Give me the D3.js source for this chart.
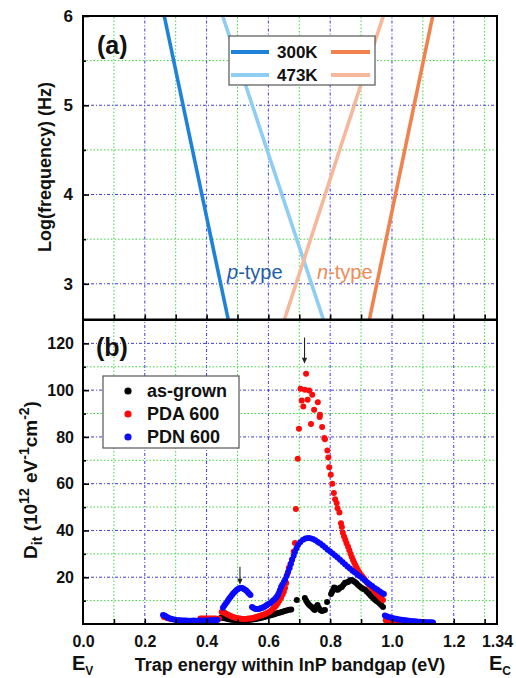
<!DOCTYPE html>
<html>
<head>
<meta charset="utf-8">
<script src="https://cdn.jsdelivr.net/npm/d3@7"></script>
<style>
  html, body { margin: 0; padding: 0; background: #fff; }
  svg text { font-family: "Liberation Sans", Arial, Helvetica, sans-serif; }
</style>
</head>
<body>
<svg id="chart" width="516" height="678"></svg>
<script>
// ---- axis ticks ----
const xTickValues = [0.0, 0.2, 0.4, 0.6, 0.8, 1.0, 1.2, 1.34];
const xTickLabels = ["0.0", "0.2", "0.4", "0.6", "0.8", "1.0", "1.2", "1.34"];
const freqTicks = [3, 4, 5, 6];
const freqMinorTicks = [3.5, 4.5, 5.5];
const ditTicks = [20, 40, 60, 80, 100, 120];
const ditMinorTicks = [10, 30, 50, 70, 90, 110];

// ---- panel (a): trap energy vs log(frequency), straight lines ----
// each line: energy (eV) at the two log(f) values below
const lineLogF = [2.6, 6];
const pType300K = [0.470, 0.263];
const pType473K = [0.778, 0.452];
const nType300K = [0.927, 1.132];
const nType473K = [0.652, 0.972];

// ---- panel (b): Dit (1e12 eV^-1 cm^-2) vs trap energy (eV) ----
const asGrown = [
  [0.446,2.6],[0.450,3.0],[0.454,2.8],[0.458,2.6],[0.462,2.4],[0.467,2.2],[0.472,2.0],[0.477,1.9],
  [0.482,1.8],[0.488,1.7],[0.494,1.6],[0.500,1.5],[0.506,1.5],[0.512,1.5],[0.518,1.5],[0.524,1.6],
  [0.530,1.6],[0.536,1.7],[0.542,1.8],[0.548,1.9],[0.554,2.0],[0.560,2.1],[0.566,2.3],[0.572,2.5],
  [0.578,2.7],[0.584,2.9],[0.590,3.1],[0.596,3.3],[0.602,3.5],[0.608,3.7],[0.614,4.0],[0.620,4.2],
  [0.626,4.5],[0.632,4.7],[0.638,4.9],[0.644,5.1],[0.650,5.4],[0.656,5.7],[0.662,5.9],[0.668,6.1],
  [0.674,6.2],[0.692,10.3],[0.718,11.1],[0.722,10.0],[0.726,9.2],[0.730,8.4],[0.735,7.8],[0.740,7.3],
  [0.745,6.5],[0.750,6.0],[0.755,7.4],[0.759,8.1],[0.763,6.9],[0.768,6.0],[0.773,5.6],[0.778,5.8],
  [0.783,6.0],[0.790,9.4],[0.803,12.8],[0.806,13.7],[0.810,14.8],[0.813,15.6],[0.816,15.4],[0.820,14.8],
  [0.825,14.6],[0.829,15.2],[0.833,15.6],[0.838,15.8],[0.843,16.8],[0.848,17.6],[0.853,17.8],[0.858,18.0],
  [0.864,18.6],[0.870,18.8],[0.875,18.4],[0.880,18.0],[0.885,17.4],[0.890,16.7],[0.896,16.0],[0.902,15.4],
  [0.908,15.0],[0.913,14.6],[0.919,13.8],[0.925,13.0],[0.930,12.3],[0.935,11.6],[0.940,11.0],[0.945,10.4],
  [0.950,9.8],[0.955,9.4],[0.960,8.8],[0.965,8.1],[0.971,7.3]
];

const pda600 = [
  [0.262,3.0],[0.268,2.8],[0.274,2.5],[0.280,2.3],[0.286,2.0],
  [0.380,2.3],[0.386,2.3],[0.392,2.4],[0.398,2.4],[0.404,2.3],[0.410,2.4],[0.416,2.3],[0.422,2.4],
  [0.428,2.3],[0.434,2.2],[0.440,2.2],
  [0.449,5.1],[0.453,5.0],[0.457,4.8],[0.461,4.6],[0.466,4.2],[0.471,3.8],[0.476,3.5],[0.481,3.2],
  [0.486,3.0],[0.491,2.8],[0.496,2.6],[0.501,2.5],[0.506,2.3],[0.511,2.2],[0.516,2.1],[0.521,2.1],
  [0.526,2.1],[0.531,2.2],[0.536,2.3],[0.541,2.4],[0.546,2.5],[0.551,2.6],[0.556,2.8],[0.561,3.0],
  [0.566,3.2],[0.571,3.4],[0.576,3.6],[0.581,3.8],[0.586,4.1],[0.591,4.4],[0.596,4.7],[0.601,5.0],
  [0.606,5.4],[0.611,6.0],[0.616,6.7],[0.621,7.3],[0.626,8.0],[0.631,9.0],[0.636,10.0],[0.641,11.2],
  [0.646,12.6],[0.650,13.8],[0.654,15.4],[0.658,17.5],[0.662,21.5],[0.666,24.0],[0.671,25.5],[0.676,27.4],
  [0.682,31.0],[0.686,34.6],[0.689,49.2],[0.695,70.7],[0.699,83.5],[0.704,100.6],
  [0.708,95.6],[0.713,93.0],[0.718,100.2],[0.722,107.0],[0.727,95.9],[0.732,99.8],[0.738,85.5],
  [0.742,98.0],[0.748,91.6],[0.760,94.8],[0.766,88.5],[0.767,89.5],[0.774,84.2],[0.781,79.5],
  [0.783,79.0],[0.791,74.2],[0.794,71.2],[0.797,67.0],[0.802,63.8],[0.807,60.0],[0.812,56.0],
  [0.816,53.4],[0.821,51.7],[0.824,49.5],[0.830,47.7],[0.835,43.1],
  [0.838,41.5],[0.841,39.0],[0.845,37.4],[0.849,36.0],[0.853,34.5],[0.858,33.0],[0.862,31.5],
  [0.866,30.0],[0.870,28.7],[0.874,27.4],[0.878,26.2],[0.882,25.0],[0.886,24.0],[0.890,23.0],
  [0.895,21.9],[0.900,21.0],[0.905,20.2],[0.910,19.4],[0.915,18.4],[0.920,17.6],[0.925,16.9],
  [0.930,16.1],[0.935,15.4],[0.940,14.6],[0.945,13.8],[0.950,13.1],[0.955,12.4],[0.960,11.7],
  [0.965,11.0],[0.971,10.3],
  [0.980,1.6],[0.986,1.4],[0.992,1.2],[0.998,1.1],[1.004,1.0],[1.010,0.9],[1.016,0.9],[1.022,0.8],
  [1.028,0.8],[1.034,0.7],[1.040,0.7]
];

const pdn600 = [
  [0.259,3.9],[0.264,3.6],[0.269,3.2],[0.274,2.8],[0.279,2.5],[0.285,2.2],[0.291,2.0],[0.297,1.8],
  [0.303,1.7],[0.309,1.6],[0.315,1.6],[0.321,1.5],[0.327,1.5],[0.333,1.5],[0.339,1.4],[0.345,1.4],
  [0.351,1.4],[0.357,1.5],[0.363,1.4],[0.369,1.4],[0.375,1.5],[0.381,1.5],[0.387,1.4],[0.393,1.5],
  [0.399,1.5],[0.405,1.5],[0.411,1.6],[0.417,1.5],[0.423,1.6],[0.429,1.6],[0.435,1.7],
  [0.453,6.9],[0.457,7.8],[0.461,8.6],[0.466,9.4],[0.470,10.3],[0.474,11.0],[0.478,11.7],[0.482,12.4],
  [0.486,13.0],[0.490,13.6],[0.494,14.1],[0.498,14.6],[0.502,15.0],[0.506,15.3],[0.510,15.4],[0.514,15.4],
  [0.518,15.2],[0.522,14.9],[0.526,14.5],[0.530,14.1],[0.534,13.5],[0.538,12.9],[0.542,12.4],
  [0.547,7.3],[0.551,6.9],[0.555,6.6],[0.559,6.4],[0.563,6.4],[0.567,6.4],[0.571,6.5],[0.575,6.7],
  [0.579,6.9],[0.583,7.1],[0.587,7.4],[0.591,7.7],[0.595,8.1],[0.600,8.5],[0.605,8.9],[0.610,9.4],
  [0.615,10.0],[0.620,10.6],[0.625,11.3],[0.629,12.0],[0.633,13.0],[0.637,14.4],[0.641,15.8],[0.645,16.8],
  [0.650,18.0],[0.654,18.9],[0.659,20.5],[0.664,22.3],[0.669,24.0],[0.673,25.8],[0.677,27.6],[0.682,29.2],
  [0.686,30.8],[0.691,32.4],[0.696,33.8],[0.703,35.0],[0.712,36.0],[0.720,36.6],[0.728,36.8],[0.736,36.7],
  [0.744,36.4],[0.752,35.8],[0.760,35.1],[0.768,34.4],[0.776,33.6],[0.784,32.7],[0.792,31.8],[0.800,31.0],
  [0.808,30.1],[0.816,29.3],[0.824,28.4],[0.832,27.5],[0.840,26.5],[0.848,25.5],[0.856,24.6],[0.864,23.7],
  [0.872,22.8],[0.880,22.0],[0.888,21.2],[0.896,20.4],[0.904,19.6],[0.912,18.7],[0.920,17.8],[0.928,17.0],
  [0.936,16.2],[0.944,15.4],[0.952,14.7],[0.960,14.0],[0.968,13.3],[0.974,12.8],
  [0.977,3.6],[0.983,3.3],[0.989,3.0],[0.995,2.8],[1.001,2.6],[1.007,2.4],[1.013,2.2],[1.019,2.0],
  [1.025,1.9],[1.031,1.8],[1.037,1.7],[1.043,1.6],[1.049,1.5],[1.055,1.4],[1.061,1.3],[1.067,1.2],
  [1.073,1.2],[1.079,1.1],[1.085,1.0],[1.091,1.0],[1.097,0.9],[1.103,0.9],[1.109,0.8],[1.115,0.8],
  [1.121,0.7],[1.127,0.7],[1.133,0.6]
];

// peak markers: energy, arrow tail and tip (Dit units)
const arrowEnergy = [0.508, 0.717];
const arrowTail = [24.5, 122.5];
const arrowTip = [16.8, 111.3];

// ---- layout ----
const svg = d3.select("#chart");
const x = d3.scaleLinear().domain([0, 1.34]).range([83, 497]);
const yA = d3.scaleLinear().domain([2.6, 6]).range([319.5, 16]);
const yB = d3.scaleLinear().domain([0, 130]).range([624, 320]);

const GRID_BLUE = "#3c3ce6";
const GRID_GREEN = "#3ed83e";
const FONT_BOLD = 700;

function drawGrid(y, major, minor) {
  const g = svg.append("g");
  const vx = d3.range(1, 14).map(i => i / 10);
  g.selectAll(".gv").data(vx).join("line")
    .attr("x1", d => x(d)).attr("x2", d => x(d))
    .attr("y1", y.range()[0]).attr("y2", y.range()[1])
    .attr("stroke", (d, i) => i % 2 === 1 ? GRID_BLUE : GRID_GREEN)
    .attr("stroke-width", 1)
    .attr("stroke-dasharray", (d, i) => i % 2 === 1 ? "3,2,1,2" : "1.5,2");
  g.selectAll(".gh").data(major).join("line")
    .attr("x1", x.range()[0]).attr("x2", x.range()[1])
    .attr("y1", d => y(d)).attr("y2", d => y(d))
    .attr("stroke", GRID_BLUE).attr("stroke-width", 1).attr("stroke-dasharray", "3,2,1,2");
  g.selectAll(".gm").data(minor).join("line")
    .attr("x1", x.range()[0]).attr("x2", x.range()[1])
    .attr("y1", d => y(d)).attr("y2", d => y(d))
    .attr("stroke", GRID_GREEN).attr("stroke-width", 1).attr("stroke-dasharray", "1.5,2");
}

function styleAxis(g) {
  g.select(".domain").remove();
  g.selectAll(".tick line").attr("stroke", "#000").attr("stroke-width", 1.6);
  g.selectAll(".tick text")
    .attr("fill", "#111").style("font-size", "16px").style("font-weight", FONT_BOLD)
    .style("font-family", '"Liberation Sans", Arial, sans-serif');
}

// ===== panel (a) =====
drawGrid(yA, freqTicks.filter(v => v < 6), freqMinorTicks);

svg.append("clipPath").attr("id", "clipA").append("rect")
  .attr("x", x(0)).attr("y", yA(6)).attr("width", x(1.34) - x(0)).attr("height", yA(2.6) - yA(6));

const trapLines = [
  { e: pType473K, color: "#8fcdf3" },
  { e: nType473K, color: "#f6b89c" },
  { e: pType300K, color: "#1f82d8" },
  { e: nType300K, color: "#f0824e" }
];
const lineGen = d3.line().x(d => x(d[0])).y(d => yA(d[1]));
svg.append("g").attr("clip-path", "url(#clipA)")
  .selectAll("path").data(trapLines).join("path")
  .attr("d", d => lineGen(d.e.map((v, i) => [v, lineLogF[i]])))
  .attr("fill", "none").attr("stroke", d => d.color).attr("stroke-width", 3.6);

// axes (a)
svg.append("g").attr("transform", `translate(${x(0)},0)`)
  .call(d3.axisLeft(yA).tickValues(freqTicks).tickSize(-6).tickPadding(10).tickFormat(d3.format("d")))
  .call(styleAxis).selectAll(".tick text").style("font-size", "17px");
svg.append("g").attr("transform", `translate(${x(0)},0)`)
  .call(d3.axisLeft(yA).tickValues(freqMinorTicks).tickSize(-3).tickFormat(""))
  .call(styleAxis);
svg.append("g").attr("transform", `translate(0,${yA(2.6)})`)
  .call(d3.axisBottom(x).tickValues(d3.range(1, 14).map(i => i / 10)).tickSize(-5).tickFormat(""))
  .call(styleAxis);

svg.append("rect").attr("x", x(0)).attr("y", yA(6))
  .attr("width", x(1.34) - x(0)).attr("height", yA(2.6) - yA(6))
  .attr("fill", "none").attr("stroke", "#000").attr("stroke-width", 2);

svg.append("text").attr("x", 97).attr("y", 54).text("(a)")
  .style("font-size", "25px").style("font-weight", FONT_BOLD).attr("fill", "#111");

// type labels
const pLab = svg.append("text").attr("x", 227).attr("y", 279).attr("fill", "#1d5ea8").style("font-size", "20px");
pLab.append("tspan").style("font-style", "italic").text("p");
pLab.append("tspan").text("-type");
const nLab = svg.append("text").attr("x", 317).attr("y", 279).attr("fill", "#f08a58").style("font-size", "20px");
nLab.append("tspan").style("font-style", "italic").text("n");
nLab.append("tspan").text("-type");

// legend (a)
const legA = svg.append("g");
legA.append("rect").attr("x", 229).attr("y", 36).attr("width", 146).attr("height", 49)
  .attr("fill", "#fff").attr("stroke", "#555").attr("stroke-width", 1.2);
const legARows = [
  { label: "300K", left: "#1f82d8", right: "#f0824e", y: 52 },
  { label: "473K", left: "#8fcdf3", right: "#f6b89c", y: 75 }
];
legARows.forEach(r => {
  legA.append("line").attr("x1", 231).attr("x2", 269).attr("y1", r.y).attr("y2", r.y)
    .attr("stroke", r.left).attr("stroke-width", 4);
  legA.append("line").attr("x1", 331).attr("x2", 370).attr("y1", r.y).attr("y2", r.y)
    .attr("stroke", r.right).attr("stroke-width", 4);
  legA.append("text").attr("x", 277).attr("y", r.y + 6).text(r.label)
    .style("font-size", "17px").style("font-weight", FONT_BOLD).attr("fill", "#111");
});

// y label (a)
svg.append("text").attr("transform", "translate(51,167) rotate(-90)")
  .attr("text-anchor", "middle").text("Log(frequency) (Hz)")
  .style("font-size", "18px").style("font-weight", FONT_BOLD).attr("fill", "#111");

// ===== panel (b) =====
drawGrid(yB, ditTicks, ditMinorTicks);

svg.append("clipPath").attr("id", "clipB").append("rect")
  .attr("x", x(0)).attr("y", yB(130)).attr("width", x(1.34) - x(0)).attr("height", yB(0) - yB(130));

const seriesB = [
  { data: asGrown, color: "#000000", name: "as-grown" },
  { data: pda600, color: "#ff0a0a", name: "PDA 600" },
  { data: pdn600, color: "#0a0aff", name: "PDN 600" }
];
const pts = svg.append("g").attr("clip-path", "url(#clipB)");
seriesB.forEach(s => {
  pts.append("g").selectAll("circle").data(s.data).join("circle")
    .attr("cx", d => x(d[0])).attr("cy", d => yB(d[1])).attr("r", 3.0)
    .attr("fill", s.color);
});

// arrows marking the peaks
arrowEnergy.forEach((e, i) => {
  const ax = x(e), y0 = yB(arrowTail[i]), y1 = yB(arrowTip[i]);
  svg.append("line").attr("x1", ax).attr("x2", ax).attr("y1", y0).attr("y2", y1 - 5)
    .attr("stroke", "#222").attr("stroke-width", 1.1);
  svg.append("path").attr("d", `M${ax - 2.6},${y1 - 6}L${ax + 2.6},${y1 - 6}L${ax},${y1}Z`)
    .attr("fill", "#222");
});

// axes (b)
svg.append("g").attr("transform", `translate(${x(0)},0)`)
  .call(d3.axisLeft(yB).tickValues(ditTicks).tickSize(-6).tickPadding(9).tickFormat(d3.format("d")))
  .call(styleAxis);
svg.append("g").attr("transform", `translate(${x(0)},0)`)
  .call(d3.axisLeft(yB).tickValues(ditMinorTicks).tickSize(-3).tickFormat(""))
  .call(styleAxis);
svg.append("g").attr("transform", `translate(0,${yB(0)})`)
  .call(d3.axisBottom(x).tickValues(d3.range(1, 14).map(i => i / 10)).tickSize(-5).tickFormat(""))
  .call(styleAxis);
svg.append("g").attr("transform", `translate(0,${yB(0)})`)
  .call(d3.axisBottom(x).tickValues(xTickValues).tickSize(0).tickPadding(12)
    .tickFormat((d, i) => xTickLabels[i]))
  .call(styleAxis);

svg.append("rect").attr("x", x(0)).attr("y", yB(130))
  .attr("width", x(1.34) - x(0)).attr("height", yB(0) - yB(130))
  .attr("fill", "none").attr("stroke", "#000").attr("stroke-width", 2);

svg.append("text").attr("x", 96).attr("y", 356).text("(b)")
  .style("font-size", "25px").style("font-weight", FONT_BOLD).attr("fill", "#111");

// legend (b)
const legB = svg.append("g");
legB.append("rect").attr("x", 103).attr("y", 376).attr("width", 136).attr("height", 72)
  .attr("fill", "#fff").attr("stroke", "#555").attr("stroke-width", 1.2);
seriesB.forEach((s, i) => {
  const ly = 391 + i * 23;
  legB.append("circle").attr("cx", 128).attr("cy", ly).attr("r", 3.6).attr("fill", s.color);
  legB.append("text").attr("x", 147).attr("y", ly + 6).text(s.name)
    .style("font-size", "18px").style("font-weight", FONT_BOLD).attr("fill", "#111");
});

// y label (b)
const dl = svg.append("text").attr("transform", "translate(37,480) rotate(-90)")
  .attr("text-anchor", "middle").style("font-size", "19px").style("font-weight", FONT_BOLD).attr("fill", "#111");
dl.append("tspan").text("D");
dl.append("tspan").attr("dy", 5).style("font-size", "14px").text("it");
dl.append("tspan").attr("dy", -5).text(" (10");
dl.append("tspan").attr("dy", -8).style("font-size", "14px").text("12");
dl.append("tspan").attr("dy", 8).text(" eV");
dl.append("tspan").attr("dy", -8).style("font-size", "14px").text("-1");
dl.append("tspan").attr("dy", 8).text("cm");
dl.append("tspan").attr("dy", -8).style("font-size", "14px").text("-2");
dl.append("tspan").attr("dy", 8).text(")");

// x label and band edges
svg.append("text").attr("x", 290).attr("y", 671).attr("text-anchor", "middle")
  .text("Trap energy within InP bandgap (eV)")
  .style("font-size", "18px").style("font-weight", FONT_BOLD).attr("fill", "#111");
[{ t: "V", x: 72 }, { t: "C", x: 489 }].forEach(b => {
  const e = svg.append("text").attr("x", b.x).attr("y", 670)
    .style("font-size", "20px").style("font-weight", FONT_BOLD).attr("fill", "#111");
  e.append("tspan").text("E");
  e.append("tspan").attr("dy", 5).style("font-size", "12px").text(b.t);
});
</script>
</body>
</html>
